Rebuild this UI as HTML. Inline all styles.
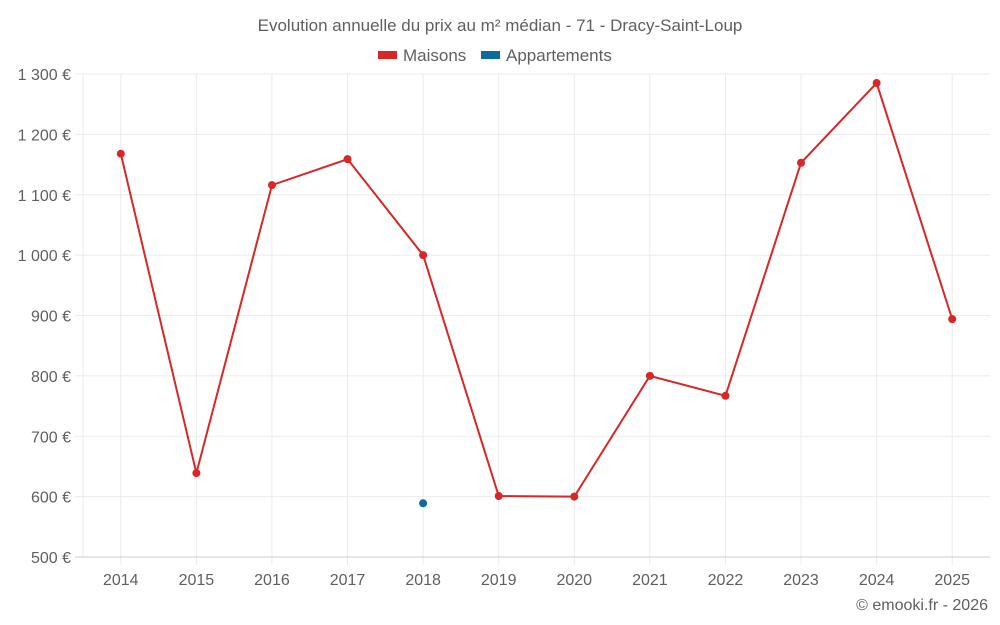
<!DOCTYPE html>
<html><head><meta charset="utf-8"><style>
html,body{margin:0;padding:0;background:#fff;}
svg{display:block;font-family:"Liberation Sans",sans-serif;}
</style></head><body>
<svg id="chart" width="1000" height="625" viewBox="0 0 1000 625">
<text x="500" y="31" text-anchor="middle" font-size="17" fill="#606060">Evolution annuelle du prix au m² médian - 71 - Dracy-Saint-Loup</text>
<g>
<g><rect x="378" y="51" width="19" height="8" fill="#d92626"/><text x="403" y="61" font-size="17" fill="#606060">Maisons</text></g>
<g><rect x="481" y="51" width="19" height="8" fill="#0b6aa2"/><text x="506" y="61" font-size="17" fill="#606060">Appartements</text></g>
</g>
<g id="grid"></g>
<g id="axes"></g>
<g id="series"></g>
<text x="988" y="610" text-anchor="end" font-size="16" fill="#606060">© emooki.fr - 2026</text>
</svg>
<script>
const categories=["2014","2015","2016","2017","2018","2019","2020","2021","2022","2023","2024","2025"];
const maisons=[1168,639,1116,1159,1000,601,600,800,767,1153,1285,894];
const appartements=[null,null,null,null,589,null,null,null,null,null,null,null];
const yTicks=[500,600,700,800,900,1000,1100,1200,1300];
const yTickLabels=["500 €","600 €","700 €","800 €","900 €","1 000 €","1 100 €","1 200 €","1 300 €"];
const L=83,R=990,T=74,B=557,yMin=500,yMax=1300;
const NS="http://www.w3.org/2000/svg";
const bw=(R-L)/categories.length;
function x(i){return L+(i+0.5)*bw;}
function y(v){return B-(v-yMin)/(yMax-yMin)*(B-T);}
function mk(tag,attrs,parent){const e=document.createElementNS(NS,tag);for(const k in attrs)e.setAttribute(k,attrs[k]);parent.appendChild(e);return e;}
const grid=document.getElementById('grid'),axes=document.getElementById('axes'),series=document.getElementById('series');
const lg=mk('line',{x1:L,x2:L,y1:T,y2:B,stroke:'#ebebeb'},grid);


categories.forEach((c,i)=>{
  const ln=mk('line',{x1:x(i),x2:x(i),y1:T,y2:B+8,stroke:'#ebebeb','stroke-width':1},grid);
  
  
  const tx=mk('text',{x:x(i),y:585,'text-anchor':'middle','font-size':16,fill:'#606060'},axes);
  tx.textContent=c;
  
  
});
yTicks.forEach((t,i)=>{
  const ln=mk('line',{x1:L-8,x2:R,y1:y(t),y2:y(t),stroke:i===0?'#ccc':'#ebebeb','stroke-width':1},grid);
  
  
  const tx=mk('text',{x:71,y:y(t)+6,'text-anchor':'end','font-size':16,fill:'#606060'},axes);
  tx.textContent=yTickLabels[i];
  
  
});
let d='';maisons.forEach((v,i)=>{if(v!=null)d+=(d?'L':'M')+x(i)+' '+y(v);});
const p=mk('path',{d:d,fill:'none',stroke:'#d92626','stroke-width':2},series);


maisons.forEach((v,i)=>{if(v==null)return;
  const c=mk('circle',{cx:x(i),cy:y(v),r:4,fill:'#d92626'},series);
  
  
});
appartements.forEach((v,i)=>{if(v==null)return;
  const c=mk('circle',{cx:x(i),cy:y(v),r:4,fill:'#0b6aa2'},series);
  
  
});
</script>
</body></html>
